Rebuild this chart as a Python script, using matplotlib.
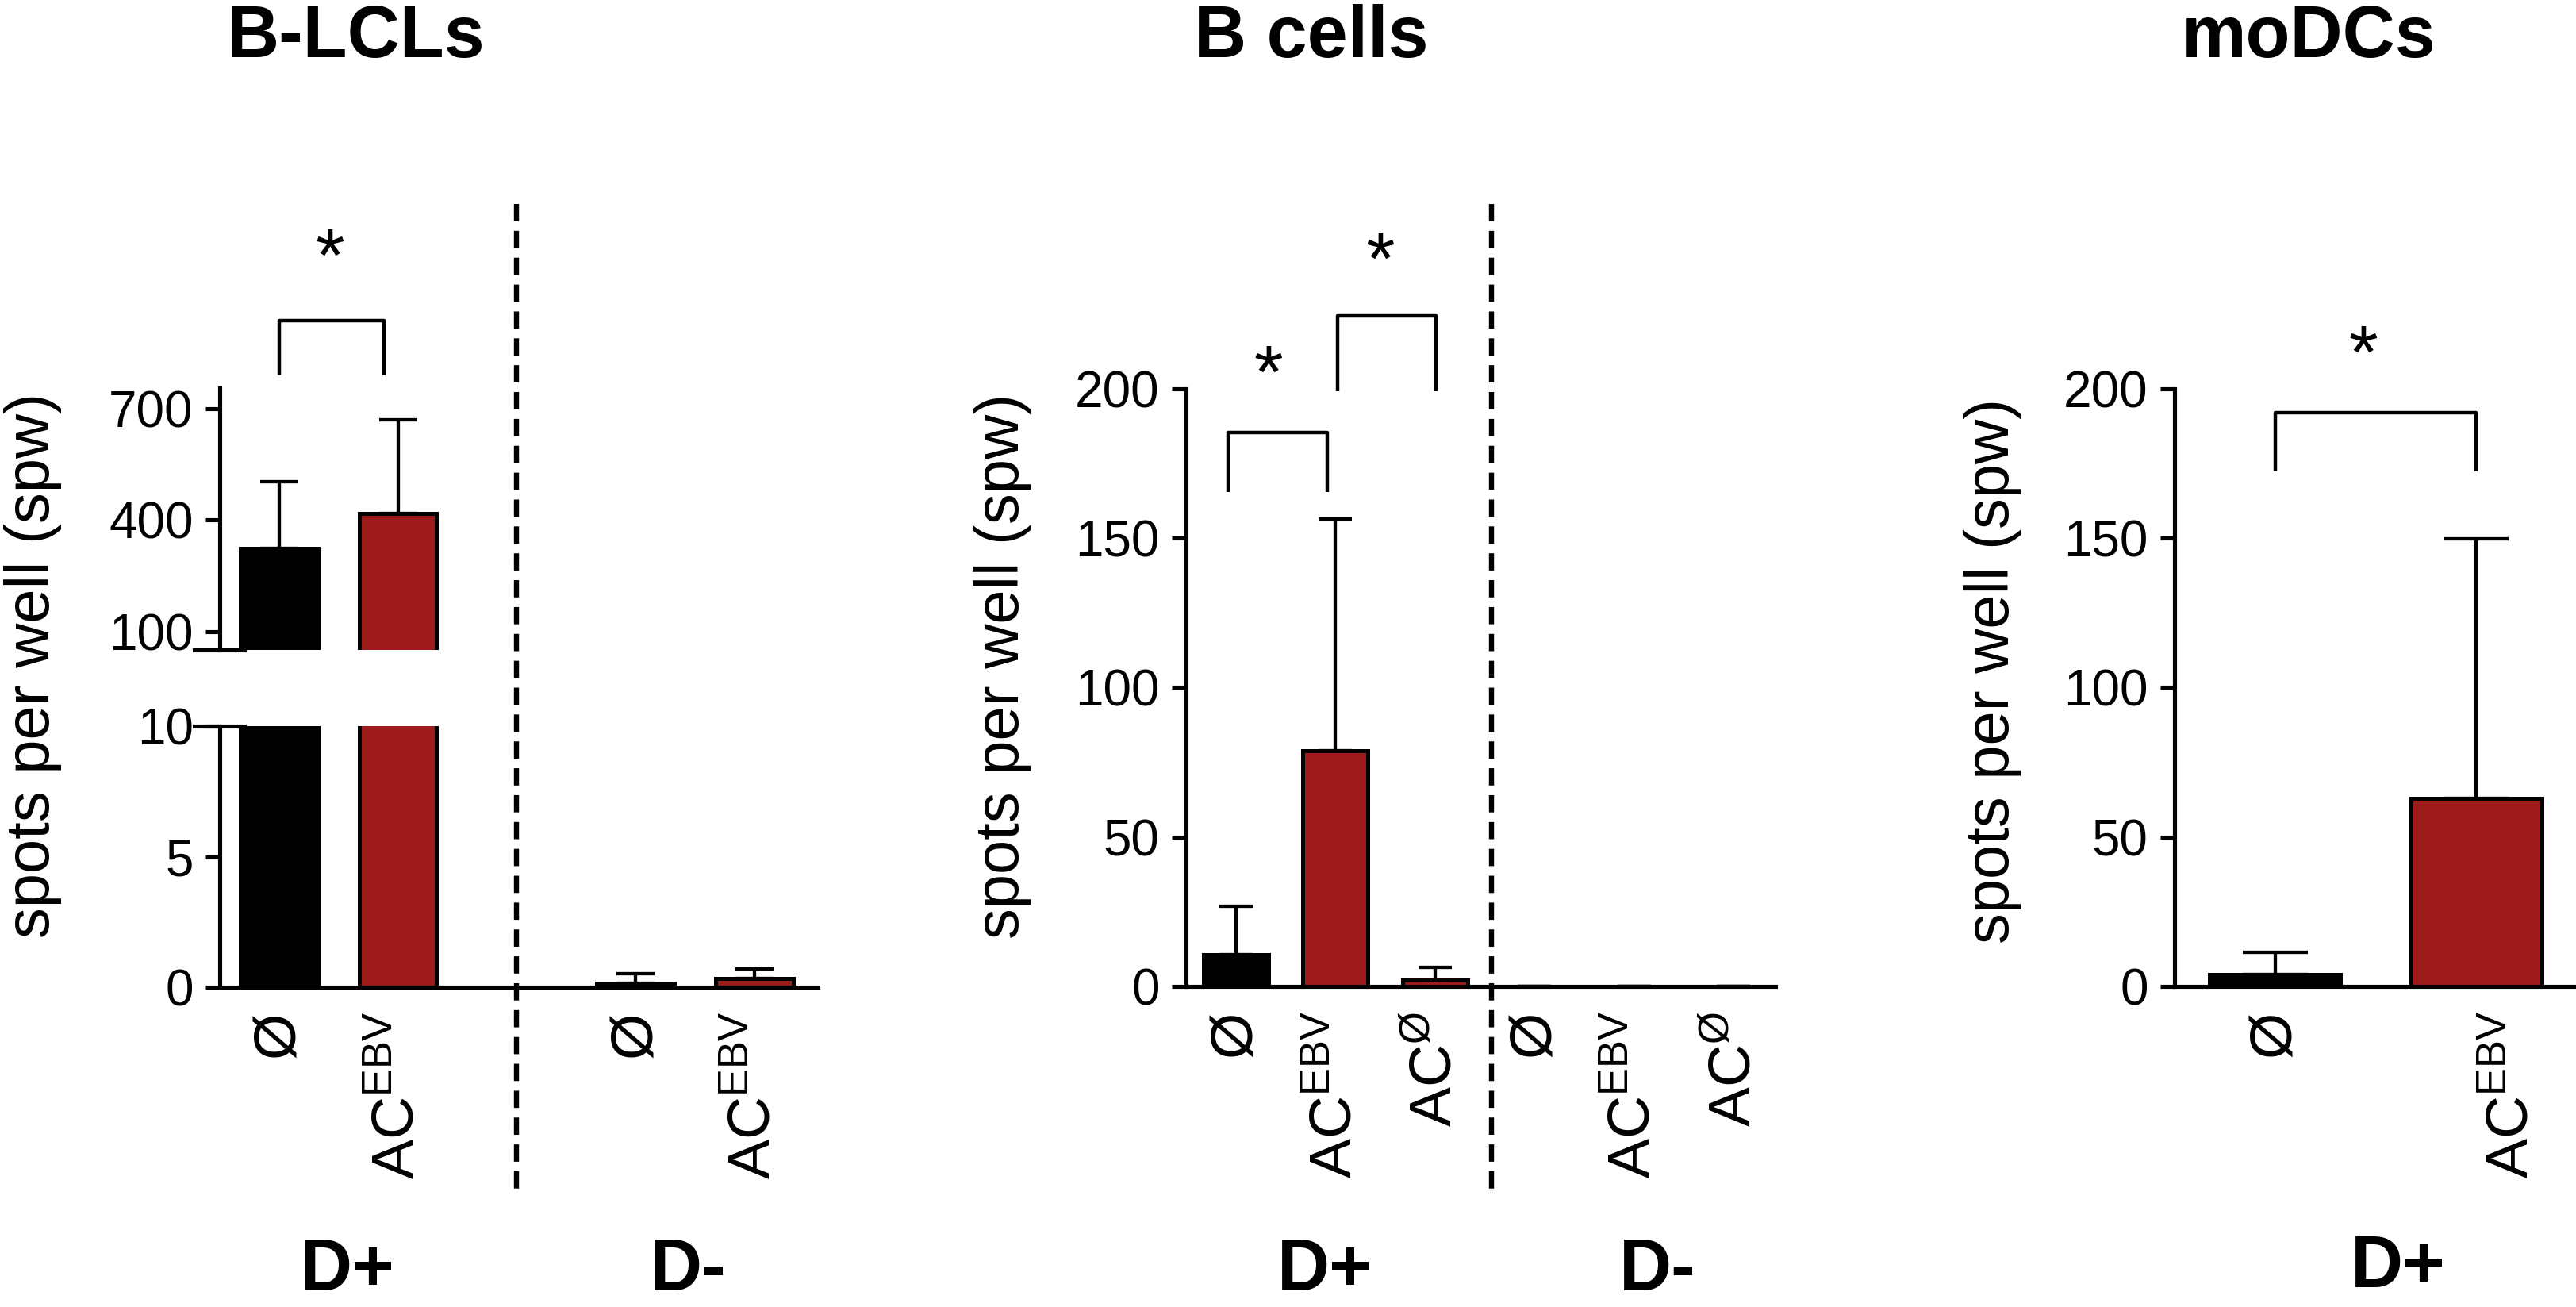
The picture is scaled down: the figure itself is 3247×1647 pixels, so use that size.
import matplotlib
matplotlib.use('Agg')
import matplotlib.pyplot as plt
from matplotlib import transforms
from matplotlib.lines import Line2D

plt.rcParams['font.family'] = ['Liberation Sans', 'DejaVu Sans']
plt.rcParams['mathtext.fontset'] = 'custom'
plt.rcParams['mathtext.rm'] = 'Liberation Sans'
plt.rcParams['mathtext.it'] = 'Liberation Sans:italic'
plt.rcParams['mathtext.bf'] = 'Liberation Sans:bold'

# data

BLACK = '#000000'
RED = '#9d1b1b'
AC_EBV = r'AC$^{\mathrm{EBV}}$'
AC_NIL = r'AC$^{\mathrm{Ø}}$'

# B-LCLs (D+ | D-)
lcl_pos = [0, 1, 3, 4]
lcl_labels = ['Ø', AC_EBV, 'Ø', AC_EBV]
lcl_mean = [324, 418, 0.15, 0.33]
lcl_sd = [180, 252, 0.38, 0.37]
lcl_colors = [BLACK, RED, BLACK, RED]

# B cells (D+ | D-)
bcell_pos = [0, 1, 2, 3, 4, 5]
bcell_labels = ['Ø', AC_EBV, AC_NIL, 'Ø', AC_EBV, AC_NIL]
bcell_mean = [10.7, 78.8, 2.0, 0, 0, 0]
bcell_sd = [16.1, 77.6, 4.4, 0, 0, 0]
bcell_colors = [BLACK, RED, RED, BLACK, RED, RED]

# moDCs (D+)
modc_pos = [0, 1]
modc_labels = ['Ø', AC_EBV]
modc_mean = [4.0, 62.9]
modc_sd = [7.5, 86.8]
modc_colors = [BLACK, RED]
modc_label_pos = [0, 1.18]

# significance: (x1, x2, leg_y, top_y, star_x, star_y)
lcl_sig = [(0.0, 0.88, 789, 936, 0.43, 1157)]
bcell_sig = [(-0.08, 0.92, 165.4, 185.3, 0.33, 211),
             (1.02, 2.01, 199, 224.4, 1.45, 249)]
modc_sig = [(0.0, 1.0, 172.3, 191.9, 0.44, 217.7)]

# layout helpers (pixel coords, origin top-left)

W, H = 3248, 1647
fig = plt.figure(figsize=(W / 100, H / 100), dpi=100)


def fx(x):
    return x / W


def fy(y):
    return 1 - y / H


def make_axes(left, top, right, bottom):
    return fig.add_axes([fx(left), fy(bottom), (right - left) / W, (bottom - top) / H])


def style(ax, show_bottom=True):
    ax.spines['top'].set_visible(False)
    ax.spines['right'].set_visible(False)
    ax.spines['left'].set_linewidth(3.7)
    ax.spines['bottom'].set_linewidth(3.7)
    ax.spines['bottom'].set_visible(show_bottom)
    ax.tick_params(axis='y', length=13, width=3.7, labelsize=46, pad=11)
    ax.tick_params(axis='x', length=0, labelsize=54, pad=22)
    ax.patch.set_alpha(0)


def draw_bars(ax, pos, mean, sd, colors, cap):
    ax.bar(pos, mean, width=0.65, color=colors, edgecolor='black', linewidth=3.6)
    ax.errorbar(pos, mean, yerr=[[0] * len(sd), sd], fmt='none', ecolor='black',
                elinewidth=3.1, capsize=cap, capthick=3.1)


def set_labels(ax, pos, labels):
    ax.set_xticks(pos)
    ax.set_xticklabels(labels, rotation=90, va='top', ha='center')


def draw_sig(ax, sig):
    for x1, x2, yl, yt, sx, sy in sig:
        ax.plot([x1, x1, x2, x2], [yl, yt, yt, yl], color='black', lw=3.2,
                clip_on=False, solid_capstyle='butt')
        ax.annotate('*', xy=(sx, sy), xytext=(0, -0.56 * 68), textcoords='offset points',
                    ha='center', va='baseline', fontsize=68, annotation_clip=False)


def dashed(ax, x):
    trans = transforms.blended_transform_factory(ax.transData, fig.transFigure)
    fig.add_artist(Line2D([x, x], [fy(257), fy(1507)], transform=trans, color='black',
                          lw=4.6, linestyle=(0, (3.4, 1.9))))


# panel 1: B-LCLs with broken axis
ax1u = make_axes(277, 489, 1031, 819)
ax1l = make_axes(277, 915, 1031, 1244)
for ax in (ax1u, ax1l):
    draw_bars(ax, lcl_pos, lcl_mean, lcl_sd, lcl_colors, 17)
    ax.set_xlim(-0.5, 4.535)
style(ax1u, show_bottom=False)
style(ax1l)
ax1u.set_ylim(51, 755)
ax1u.set_yticks([100, 400, 700])
ax1u.set_xticks([])
ax1l.set_ylim(0, 10)
ax1l.set_yticks([0, 5, 10])
set_labels(ax1l, lcl_pos, lcl_labels)
for ax, yy in ((ax1u, 0), (ax1l, 1)):
    ax.add_line(Line2D([-32 / 754, 31 / 754], [yy, yy], transform=ax.transAxes,
                       color='black', lw=3.7, clip_on=False))
draw_sig(ax1u, lcl_sig)
dashed(ax1l, 2.0)

# panel 2: B cells
ax2 = make_axes(1495, 489.5, 2238, 1243)
draw_bars(ax2, bcell_pos, bcell_mean, bcell_sd, bcell_colors, 15)
style(ax2)
ax2.set_xlim(-0.5, 5.42)
ax2.set_ylim(0, 200)
ax2.set_yticks([0, 50, 100, 150, 200])
set_labels(ax2, bcell_pos, bcell_labels)
draw_sig(ax2, bcell_sig)
dashed(ax2, 2.57)

# panel 3: moDCs
ax3 = make_axes(2741, 489.5, 3248, 1243)
draw_bars(ax3, modc_pos, modc_mean, modc_sd, modc_colors, 29.5)
style(ax3)
ax3.set_xlim(-0.5, 1.5)
ax3.set_ylim(0, 200)
ax3.set_yticks([0, 50, 100, 150, 200])
set_labels(ax3, modc_label_pos, modc_labels)
draw_sig(ax3, modc_sig)

# y labels
for x, y in ((42, 838), (1264, 839), (2511, 845)):
    fig.text(fx(x), fy(y), 'spots per well (spw)', rotation=90, ha='center', va='center',
             fontsize=56)

# titles
for x, t in ((449, 'B-LCLs'), (1653, 'B cells'), (2910, 'moDCs')):
    fig.text(fx(x), fy(72), t, ha='center', va='baseline', fontsize=66, fontweight='bold')

# donor groups
for x, y, t in ((438, 1626, 'D+'), (867, 1626, 'D-'), (1670, 1626, 'D+'),
                (2089, 1626, 'D-'), (3023, 1622, 'D+')):
    fig.text(fx(x), fy(y), t, ha='center', va='baseline', fontsize=66, fontweight='bold')

fig.savefig('out.png', dpi=100)
